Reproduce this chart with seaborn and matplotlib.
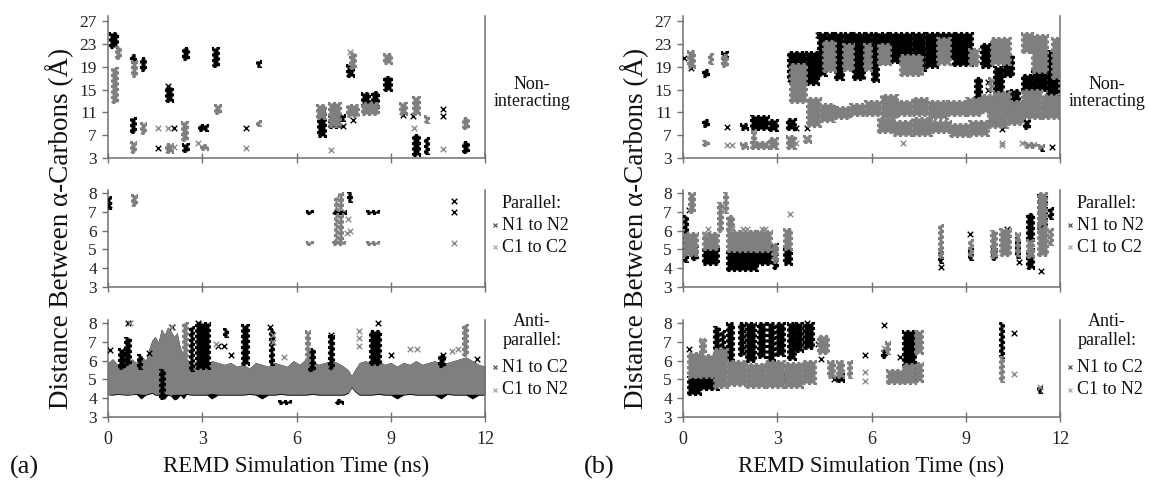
import numpy as np
import matplotlib
matplotlib.use("Agg")
import matplotlib.pyplot as plt
from matplotlib.lines import Line2D
import seaborn as sns

sns.set_theme(style="white")
plt.rcParams['font.family'] = ['Liberation Serif', 'DejaVu Serif']

BLACK = '#000000'
GRAY = '#7f7f7f'
SPINE = '#707070'

# ---------------- data (time in ns, distance in Å) ----------------
# clusters of dense samples: (t_start, t_end, d_low, d_high)
# isolated samples: (t, d)

# ---- (a) Non-interacting
a_non_n1n2 = [(0.05, 0.30, 22.5, 25.0), (0.72, 0.85, 19.8, 21.0), (0.72, 0.85, 7.6, 10.0),
              (1.05, 1.18, 18.5, 20.5), (1.85, 2.05, 13.0, 15.5), (2.40, 2.55, 20.3, 22.3),
              (2.40, 2.55, 4.3, 5.5), (2.90, 3.15, 7.9, 8.8), (3.35, 3.50, 19.2, 22.3),
              (4.75, 4.85, 19.2, 20.0), (6.67, 6.90, 6.8, 11.4), (7.05, 7.40, 8.4, 10.5),
              (7.42, 7.52, 9.6, 10.5), (7.60, 7.80, 17.3, 19.3), (8.10, 8.30, 12.0, 14.4),
              (8.40, 8.60, 12.0, 14.6), (8.80, 9.00, 15.0, 17.2), (9.70, 9.90, 3.5, 7.0),
              (10.10, 10.20, 3.9, 6.5), (11.30, 11.45, 4.0, 5.8)]
a_non_c1c2 = [(0.12, 0.28, 12.8, 18.8), (0.25, 0.38, 20.5, 22.5), (0.75, 0.88, 17.3, 20.0),
              (0.72, 0.85, 4.0, 5.8), (1.05, 1.18, 7.4, 9.1), (1.85, 2.05, 4.0, 5.5),
              (2.35, 2.50, 6.2, 9.3), (2.95, 3.15, 4.5, 5.3), (3.40, 3.55, 10.9, 12.3),
              (4.75, 4.85, 8.8, 9.5), (6.65, 6.90, 10.0, 12.3), (7.05, 7.40, 8.6, 12.6),
              (7.60, 7.95, 10.3, 12.3), (7.70, 7.85, 18.7, 21.4), (8.10, 8.60, 10.8, 12.6),
              (8.80, 9.00, 19.6, 21.3), (9.30, 9.50, 10.7, 12.6), (9.70, 9.90, 10.8, 13.7),
              (10.10, 10.20, 9.3, 10.4), (11.30, 11.45, 8.2, 10.0)]
a_non_n1n2_pts = [(1.60, 4.8), (1.90, 15.6), (2.10, 8.3), (4.40, 8.3), (7.47, 8.6),
                  (7.80, 9.7), (9.40, 10.6), (9.70, 10.4), (10.65, 11.6), (10.65, 10.4)]
a_non_c1c2_pts = [(1.60, 8.3), (1.90, 8.3), (2.10, 5.0), (2.85, 5.6), (4.40, 4.8),
                  (7.10, 4.4), (7.70, 21.6), (9.75, 8.3), (10.65, 4.6)]

# ---- (a) Parallel
a_par_n1n2 = [(0.00, 0.06, 7.2, 7.8), (6.35, 6.50, 6.95, 7.05), (7.15, 7.55, 6.95, 7.05),
              (7.65, 7.75, 7.6, 8.0), (8.25, 8.60, 6.95, 7.05)]
a_par_c1c2 = [(0.75, 0.88, 7.4, 7.9), (6.35, 6.50, 5.3, 5.4), (7.15, 7.50, 5.3, 5.4),
              (7.22, 7.30, 5.4, 6.85), (7.35, 7.45, 5.4, 6.85), (7.22, 7.30, 7.15, 7.8),
              (7.35, 7.45, 7.15, 8.0), (8.25, 8.60, 5.3, 5.4)]
a_par_n1n2_pts = [(11.0, 7.6), (11.0, 7.0), (0.03, 7.4)]
a_par_c1c2_pts = [(11.0, 5.35), (7.65, 6.6), (7.70, 6.0), (7.62, 5.9)]

# ---- (a) Anti-parallel: dense band read at sample times
a_band_t = [0.0, 0.15, 0.3, 0.45, 0.6, 0.75, 0.9, 1.05, 1.2, 1.3,
            1.4, 1.5, 1.6, 1.7, 1.8, 1.9, 2.0, 2.1, 2.2, 2.3,
            2.4, 2.5, 2.65, 2.8, 3.0, 3.15, 3.3, 3.5, 3.7, 3.9,
            4.1, 4.3, 4.5, 4.7, 4.9, 5.1, 5.3, 5.5, 5.7, 5.9,
            6.1, 6.3, 6.5, 6.7, 6.9, 7.1, 7.3, 7.5, 7.65, 7.75,
            7.85, 8.0, 8.2, 8.4, 8.6, 8.8, 9.0, 9.2, 9.4, 9.6,
            9.8, 10.0, 10.2, 10.4, 10.6, 10.8, 11.0, 11.2, 11.4, 11.6,
            11.8, 12.0]
a_band_hi = [5.9, 6.1, 5.8, 6.0, 5.7, 6.1, 5.9, 6.3, 6.0, 6.6,
             7.1, 7.3, 7.0, 7.7, 7.4, 7.8, 7.6, 7.3, 7.5, 6.7,
             6.3, 6.1, 5.9, 5.8, 6.0, 5.8, 6.0, 5.9, 5.8, 5.9,
             5.7, 5.8, 5.6, 5.9, 5.8, 5.7, 5.9, 5.8, 5.7, 6.0,
             5.8, 6.1, 6.0, 5.8, 5.9, 6.0, 5.9, 5.7, 5.5, 5.2,
             5.5, 5.9, 6.0, 5.8, 6.0, 5.8, 5.9, 5.7, 5.9, 5.8,
             6.0, 5.8, 5.9, 6.0, 5.8, 5.9, 6.0, 6.1, 6.2, 6.0,
             5.8, 5.7]
a_band_lo = [4.2, 4.2, 4.25, 4.2, 4.2, 4.2, 4.25, 4.2, 4.2, 4.25,
             4.3, 4.2, 4.2, 4.25, 4.2, 4.2, 4.15, 4.2, 4.2, 4.2,
             4.2, 4.25, 4.2, 4.2, 4.2, 4.2, 4.25, 4.2, 4.2, 4.2,
             4.2, 4.2, 4.25, 4.2, 4.2, 4.2, 4.2, 4.25, 4.2, 4.2,
             4.2, 4.2, 4.25, 4.2, 4.2, 4.2, 4.2, 4.2, 4.3, 4.6,
             4.4, 4.2, 4.2, 4.2, 4.25, 4.2, 4.2, 4.2, 4.2, 4.25,
             4.2, 4.2, 4.2, 4.2, 4.2, 4.25, 4.2, 4.2, 4.2, 4.2,
             4.2, 4.2]
a_band_black_lo = [4.17, 4.15, 4.2, 4.17, 4.15, 4.17, 4.2, 3.95, 4.15, 4.2,
                   4.25, 4.15, 4.15, 3.95, 3.95, 4.15, 4.1, 3.9, 3.95, 4.15,
                   3.95, 4.2, 4.15, 4.15, 4.15, 4.15, 3.95, 4.15, 4.15, 4.15,
                   4.15, 4.15, 4.2, 4.15, 3.95, 4.15, 4.15, 4.2, 4.15, 4.15,
                   4.15, 4.15, 4.2, 4.15, 4.15, 4.15, 4.15, 4.15, 4.25, 4.55,
                   4.35, 4.15, 4.15, 4.15, 4.2, 4.15, 4.15, 3.95, 4.15, 4.2,
                   4.15, 4.15, 4.15, 4.15, 3.95, 4.2, 4.15, 4.15, 4.15, 3.95,
                   4.15, 4.15]
a_anti_n1c2 = [(0.35, 0.50, 5.6, 6.6), (0.55, 0.70, 5.8, 7.2), (0.95, 1.05, 5.6, 6.3),
               (1.65, 1.78, 4.0, 5.5), (2.60, 2.70, 5.5, 7.8), (2.80, 3.20, 5.6, 8.0),
               (3.70, 3.78, 7.3, 7.7), (4.25, 4.45, 5.8, 7.9), (5.15, 5.25, 5.8, 7.7),
               (5.45, 5.80, 3.75, 3.85), (6.40, 6.55, 5.5, 6.6), (7.05, 7.15, 5.6, 7.3),
               (7.25, 7.45, 3.75, 3.9), (8.35, 8.65, 5.8, 7.6), (10.55, 10.70, 5.7, 6.3)]
a_anti_c1n2 = [(2.40, 2.50, 5.8, 8.0), (6.30, 6.40, 5.8, 7.6), (11.30, 11.42, 6.3, 7.9)]
a_anti_n1c2_pts = [(0.05, 6.55), (0.65, 8.0), (2.05, 7.8), (2.85, 8.0), (3.70, 6.8),
                   (5.15, 7.8), (7.10, 7.35), (8.60, 8.0), (8.55, 7.4), (9.00, 6.3),
                   (10.65, 6.3), (11.75, 6.1), (1.30, 6.4), (3.50, 6.8), (3.90, 6.3)]
a_anti_c1n2_pts = [(0.70, 8.0), (2.00, 7.8), (3.45, 6.9), (5.25, 7.4), (5.25, 7.0),
                   (5.60, 6.2), (8.00, 7.6), (8.00, 7.2), (8.00, 6.8), (9.60, 6.6),
                   (9.85, 6.6), (10.95, 6.5), (11.15, 6.6)]

# ---- (b) Non-interacting
b_non_n1n2 = [(0.65, 0.78, 17.3, 18.4), (0.65, 0.78, 8.6, 9.6), (1.25, 1.40, 20.3, 21.6),
              (1.85, 2.05, 8.0, 9.0), (2.15, 2.70, 8.0, 10.3), (2.75, 3.00, 7.9, 9.6),
              (3.30, 3.55, 8.1, 9.8), (3.35, 3.90, 16.5, 21.5), (3.90, 4.30, 16.0, 21.5),
              (4.30, 4.55, 17.5, 25.0), (4.55, 4.85, 20.0, 25.0), (4.85, 5.10, 16.8, 25.0),
              (5.10, 5.40, 21.0, 25.0), (5.40, 5.75, 16.8, 25.0), (5.75, 6.00, 21.0, 25.0),
              (6.00, 6.20, 16.5, 25.0), (6.20, 6.60, 19.5, 25.0), (6.60, 7.30, 19.8, 25.0),
              (7.30, 7.70, 18.5, 25.0), (7.70, 8.10, 19.0, 25.0), (8.10, 8.60, 20.5, 25.0),
              (8.60, 9.20, 19.3, 25.0), (9.30, 9.50, 13.5, 17.0), (9.50, 9.80, 19.0, 23.0),
              (9.90, 10.20, 11.0, 19.0), (10.20, 10.50, 17.3, 21.0), (10.30, 10.70, 11.5, 15.0),
              (10.80, 11.10, 14.6, 17.6), (10.85, 11.00, 8.2, 9.6), (11.10, 11.60, 15.0, 18.5),
              (11.60, 11.95, 13.5, 21.7), (11.35, 11.45, 4.4, 4.8)]
b_non_c1c2 = [(0.15, 0.35, 19.0, 21.7), (0.82, 0.92, 19.6, 21.3), (0.65, 0.78, 5.3, 6.0),
              (1.25, 1.40, 19.2, 21.0), (1.85, 2.05, 4.8, 5.7), (2.15, 2.70, 4.8, 5.8),
              (2.20, 2.30, 5.8, 7.8), (2.75, 3.00, 4.8, 6.5), (3.30, 3.55, 4.7, 6.8),
              (3.85, 4.05, 5.8, 6.8), (3.40, 3.90, 12.8, 19.5), (3.95, 4.35, 8.6, 13.5),
              (4.35, 4.80, 9.5, 12.5), (4.80, 5.30, 10.0, 12.0), (5.30, 5.80, 10.5, 12.5),
              (5.80, 6.30, 10.5, 13.0), (6.30, 6.80, 10.0, 14.0), (6.80, 7.30, 10.5, 13.0),
              (7.30, 7.80, 10.5, 13.5), (7.80, 8.40, 10.0, 13.0), (8.40, 9.00, 10.5, 13.0),
              (9.00, 9.50, 10.5, 13.5), (9.50, 9.90, 11.0, 14.0), (9.90, 10.40, 10.5, 14.5),
              (10.40, 10.80, 10.0, 13.0), (10.80, 11.40, 10.0, 15.0), (11.40, 12.00, 10.0, 14.0),
              (6.20, 6.70, 7.5, 10.0), (6.70, 7.30, 7.0, 9.5), (7.30, 7.90, 7.0, 10.0),
              (7.90, 8.50, 7.5, 9.5), (8.50, 9.10, 6.8, 9.0), (9.10, 9.70, 7.0, 9.5),
              (9.70, 10.30, 8.5, 11.0), (10.30, 10.80, 9.0, 11.5),
              (4.45, 4.85, 18.3, 23.5), (5.10, 5.40, 18.5, 23.0), (5.75, 6.00, 18.5, 23.0),
              (6.20, 6.60, 19.5, 23.0), (6.90, 7.60, 17.5, 21.0), (8.10, 8.50, 19.5, 24.0),
              (9.10, 9.40, 19.3, 22.2), (9.80, 10.40, 19.5, 24.0), (10.80, 11.10, 21.6, 25.0),
              (11.10, 11.60, 18.0, 24.5), (11.75, 12.00, 17.0, 24.0), (9.75, 9.85, 15.0, 17.0),
              (10.90, 11.20, 5.0, 5.6), (11.30, 11.45, 4.8, 5.3)]
b_non_n1n2_pts = [(0.02, 20.5), (0.25, 18.8), (1.40, 8.4), (3.60, 8.2), (3.95, 8.2),
                  (9.70, 16.4), (9.70, 14.9), (10.15, 8.1), (11.75, 5.0), (4.30, 24.5)]
b_non_c1c2_pts = [(1.40, 5.3), (1.55, 5.2), (3.60, 5.6), (3.90, 6.4), (7.00, 5.6),
                  (10.15, 5.3), (10.15, 5.7), (10.80, 5.6)]

# ---- (b) Parallel
b_par_n1n2 = [(0.02, 0.12, 4.4, 6.8), (0.30, 0.45, 4.5, 5.2), (0.65, 1.10, 4.2, 5.0),
              (1.40, 2.35, 3.9, 5.0), (2.30, 2.80, 4.2, 5.2), (2.85, 3.00, 4.0, 5.3),
              (3.20, 3.45, 4.2, 5.0), (8.15, 8.25, 4.3, 5.0), (9.10, 9.20, 4.5, 5.0),
              (9.85, 9.95, 4.5, 5.0), (10.15, 10.35, 5.0, 5.5), (10.60, 10.70, 4.6, 5.6),
              (10.95, 11.15, 5.5, 6.9), (10.95, 11.15, 4.0, 5.0), (11.30, 11.55, 6.1, 7.9),
              (11.65, 11.75, 6.7, 7.2)]
b_par_c1c2 = [(0.00, 0.45, 4.7, 5.9), (0.20, 0.35, 7.0, 8.0), (0.65, 1.10, 5.0, 5.9),
              (1.10, 1.25, 6.0, 7.5), (1.30, 1.40, 7.0, 8.0), (1.40, 2.35, 4.9, 6.0),
              (1.40, 1.60, 6.0, 6.8), (2.30, 2.80, 4.9, 6.0), (2.85, 3.00, 4.3, 5.3),
              (3.20, 3.45, 5.0, 6.1), (8.15, 8.25, 4.6, 6.3), (9.10, 9.20, 4.7, 5.5),
              (9.80, 9.95, 4.6, 6.0), (10.10, 10.40, 4.7, 6.1), (10.60, 10.70, 4.7, 5.9),
              (10.95, 11.15, 4.6, 5.5), (11.30, 11.55, 6.3, 8.0), (11.30, 11.60, 4.7, 6.2),
              (11.65, 11.75, 5.3, 6.1)]
b_par_n1n2_pts = [(0.20, 7.1), (8.20, 4.05), (9.15, 5.8), (10.30, 6.1), (10.70, 4.3), (11.40, 3.85)]
b_par_c1c2_pts = [(0.80, 6.1), (1.55, 6.1), (1.90, 6.1), (2.05, 6.1), (2.50, 6.1),
                  (2.60, 6.1), (3.40, 6.9), (0.70, 5.8)]

# ---- (b) Anti-parallel
b_anti_n1c2 = [(0.17, 0.55, 4.2, 5.1), (0.50, 1.10, 4.5, 5.4), (1.00, 1.15, 5.8, 7.8),
               (1.20, 1.30, 6.2, 7.6), (1.40, 1.60, 6.0, 8.0), (1.77, 1.94, 6.3, 8.0),
               (2.00, 2.30, 6.0, 8.0), (2.40, 2.60, 6.2, 8.0), (2.70, 2.90, 6.0, 8.0),
               (2.95, 3.20, 6.3, 8.0), (3.35, 3.55, 6.1, 8.0), (3.60, 3.80, 6.5, 8.0),
               (3.86, 4.15, 6.7, 8.0), (3.20, 3.35, 5.0, 5.3), (4.90, 5.10, 4.9, 5.3),
               (6.35, 6.45, 6.2, 6.5), (7.00, 7.40, 5.0, 7.6), (7.45, 7.55, 6.8, 7.2),
               (10.10, 10.20, 6.2, 8.0), (11.30, 11.40, 4.3, 4.6)]
b_anti_c1n2 = [(0.17, 0.55, 5.1, 6.4), (0.55, 0.70, 6.4, 7.1), (0.50, 1.10, 5.1, 6.3),
               (1.00, 1.40, 4.6, 6.6), (1.40, 2.00, 4.7, 6.0), (2.00, 2.60, 4.6, 5.8),
               (2.60, 3.20, 4.6, 6.0), (3.20, 3.80, 4.6, 5.9), (3.80, 4.20, 4.8, 6.0),
               (4.30, 4.60, 6.4, 7.3), (4.60, 4.80, 5.1, 6.0), (4.90, 5.10, 5.1, 6.0),
               (5.25, 5.35, 5.1, 6.0), (6.45, 6.55, 6.4, 7.0), (6.50, 7.00, 4.8, 5.5),
               (7.00, 7.40, 4.8, 5.8), (7.40, 7.60, 6.4, 7.6), (7.40, 7.60, 4.9, 5.9),
               (10.10, 10.20, 4.9, 6.2)]
b_anti_n1c2_pts = [(0.20, 6.6), (4.30, 6.9), (4.40, 6.1), (4.80, 5.0), (5.80, 6.3),
                   (6.40, 7.9), (6.90, 6.2), (10.55, 7.5), (3.95, 8.0)]
b_anti_c1n2_pts = [(5.80, 5.4), (5.80, 4.9), (6.40, 6.7), (10.55, 5.3), (11.35, 4.6), (0.60, 7.1)]

x_ticks = [0, 3, 6, 9, 12]
non_ticks = [3, 7, 11, 15, 19, 23, 27]
small_ticks = [3, 4, 5, 6, 7, 8]
row_titles = ["Non-\ninteracting", "Parallel:", "Anti-\nparallel:"]
par_legend = ["N1 to N2", "C1 to C2"]
anti_legend = ["N1 to C2", "C1 to N2"]
y_label = "Distance Between \u03b1-Carbons (\u00c5)"
x_label = "REMD Simulation Time (ns)"

# ---------------- drawing ----------------
W, H = 1149, 484
fig = plt.figure(figsize=(W / 100, H / 100), dpi=100)


def fx(px):
    return px / W


def fy(py):
    return 1 - py / H


def draw_clusters(ax, clusters, color, z):
    if not clusters:
        return
    c = np.array(clusters, dtype=float)
    ax.bar(x=c[:, 0], height=c[:, 3] - c[:, 2], width=c[:, 1] - c[:, 0], bottom=c[:, 2],
           align='edge', color=color, edgecolor=color, linewidth=2.2,
           linestyle=(0, (1.0, 0.8)), zorder=z)


def draw_points(ax, pts, color, z):
    if not pts:
        return
    p = np.array(pts, dtype=float)
    sns.scatterplot(x=p[:, 0], y=p[:, 1], marker='x', color=color, s=16, linewidth=1.0,
                    ax=ax, zorder=z, legend=False)


def style_axes(ax, ymax, yticks, bottom_labels):
    ax.set_xlim(0, 12)
    ax.set_ylim(3, ymax)
    ax.set_xticks(x_ticks)
    ax.set_yticks(yticks)
    for s in ['left', 'right', 'bottom']:
        ax.spines[s].set_visible(True)
        ax.spines[s].set_color(SPINE)
        ax.spines[s].set_linewidth(1.1)
    ax.spines['top'].set_visible(False)
    ax.tick_params(axis='y', direction='out', length=4, width=1, color=SPINE, pad=4,
                   labelsize=12.5, left=True, labelcolor='#222222')
    ax.tick_params(axis='x', direction='inout', length=7, width=1, color=SPINE, pad=7,
                   labelsize=13, bottom=True, labelcolor='#222222')
    if not bottom_labels:
        ax.set_xticklabels([])
    ax.set_xlabel('')
    ax.set_ylabel('')
    ax.set_facecolor('white')


panels = [
    dict(left=108, tag="(a)",
         non=(a_non_n1n2, a_non_c1c2, a_non_n1n2_pts, a_non_c1c2_pts),
         par=(a_par_n1n2, a_par_c1c2, a_par_n1n2_pts, a_par_c1c2_pts),
         anti=(a_anti_n1c2, a_anti_c1n2, a_anti_n1c2_pts, a_anti_c1n2_pts), band=True),
    dict(left=683, tag="(b)",
         non=(b_non_n1n2, b_non_c1c2, b_non_n1n2_pts, b_non_c1c2_pts),
         par=(b_par_n1n2, b_par_c1c2, b_par_n1n2_pts, b_par_c1c2_pts),
         anti=(b_anti_n1c2, b_anti_c1n2, b_anti_n1c2_pts, b_anti_c1n2_pts), band=False),
]

width_px = 377
rows = [("non", 16, 158, 27.9, non_ticks), ("par", 189.6, 286.7, 8.2, small_ticks),
        ("anti", 319.6, 416.7, 8.2, small_ticks)]

for p in panels:
    L = p['left']
    for i, (key, top_px, bot_px, ymax, yt) in enumerate(rows):
        ax = fig.add_axes([fx(L), fy(bot_px), width_px / W, (bot_px - top_px) / H])
        n_cl, c_cl, n_pts, c_pts = p[key]
        if key == 'anti' and p['band']:
            ax.fill_between(a_band_t, a_band_black_lo, a_band_hi, color=BLACK, lw=0, zorder=1)
            ax.fill_between(a_band_t, a_band_lo, a_band_hi, color=GRAY, lw=0, zorder=2)
        draw_clusters(ax, n_cl, BLACK, 3)
        draw_points(ax, n_pts, BLACK, 4)
        draw_clusters(ax, c_cl, GRAY, 5)
        draw_points(ax, c_pts, '#8c8c8c', 6)
        style_axes(ax, ymax, yt, i == 2)

    fig.text(fx(L - 48), fy(228), y_label, rotation=90, ha='center', va='center',
             fontsize=19.5, color='#111111')
    fig.text(fx(L + width_px / 2), fy(466), x_label, ha='center', va='center',
             fontsize=16.5, color='#111111')
    fig.text(fx(L - 84), fy(467), p['tag'], ha='center', va='center', fontsize=19,
             color='#111111')
    cx = L + width_px + 47
    fig.text(fx(cx), fy(93), row_titles[0], ha='center', va='center', fontsize=13,
             linespacing=1.05, color='#111111')
    fig.text(fx(cx), fy(204), row_titles[1], ha='center', va='center', fontsize=13,
             color='#111111')
    fig.text(fx(cx), fy(331), row_titles[2], ha='center', va='center', fontsize=13,
             linespacing=1.15, color='#111111')
    for j, (lab, mcol) in enumerate(zip(par_legend + anti_legend,
                                        ['#555555', '#aaaaaa', '#555555', '#aaaaaa'])):
        py = [225, 247, 367, 390][j]
        fig.text(fx(L + width_px + 17), fy(py), lab, ha='left', va='center', fontsize=13,
                 color='#111111')
        fig.lines.append(Line2D([fx(L + width_px + 10)], [fy(py)], marker='x',
                                markersize=3.5, mew=0.9, color=mcol, linestyle='none',
                                transform=fig.transFigure))

fig.savefig("out.png", dpi=100, facecolor='white')
